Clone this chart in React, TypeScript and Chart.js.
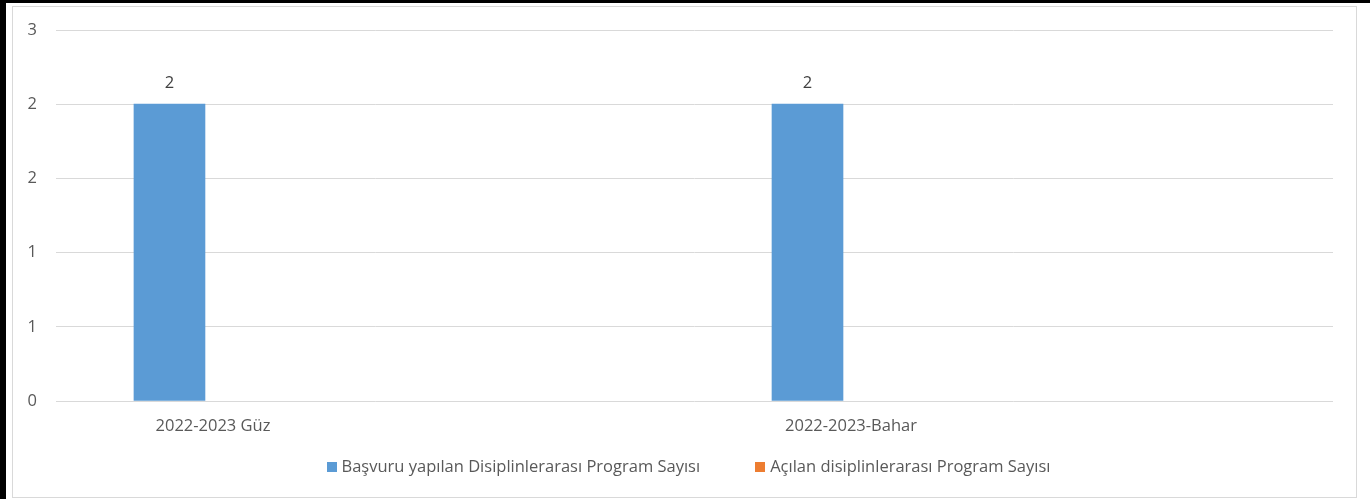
import React, { useEffect, useRef } from "react";
import { Chart, registerables } from "chart.js";

Chart.register(...registerables);

const categories = ["2022-2023 Güz", "2022-2023-Bahar"];
const categoryPositions = [0, 1];
const seriesNames = [
  "Başvuru yapılan Disiplinlerarası Program Sayısı",
  "Açılan disiplinlerarası Program Sayısı",
];
const seriesColors = ["#5B9BD5", "#ED7D31"];
const basvuruValues = [2, 2];
const acilanValues = [0, 0];
const yTicks = [0, 0.5, 1, 1.5, 2, 2.5];

const FONT = "'Open Sans', 'Noto Sans', sans-serif";
const TEXT = "#595959";
const FS = 16.5;

const labelPlugin = {
  id: "barValueLabels",
  afterDatasetsDraw(chart: any) {
    const ctx = chart.ctx;
    const meta = chart.getDatasetMeta(0);
    ctx.save();
    ctx.font = `${FS}px ${FONT}`;
    ctx.fillStyle = "#404040";
    ctx.textAlign = "center";
    ctx.textBaseline = "middle";
    meta.data.forEach((el: any, i: number) => {
      const v = chart.data.datasets[0].data[i];
      ctx.fillText(String(v.y), el.x, el.y - 21);
    });
    ctx.restore();
  },
};

// Excel-like legend: small square, short gap to text, wide gap between items
const legendPlugin = {
  id: "excelLegend",
  afterDraw(chart: any) {
    const ctx = chart.ctx;
    const box = 10;
    const boxGap = 5;
    const itemGap = 55;
    ctx.save();
    ctx.font = `${FS}px ${FONT}`;
    const items = chart.data.datasets.map((d: any, i: number) => ({
      text: d.label,
      color: seriesColors[i],
      w: ctx.measureText(d.label).width,
    }));
    const total =
      items.reduce((s: number, it: any) => s + box + boxGap + it.w, 0) +
      itemGap * (items.length - 1);
    const cx = (chart.chartArea.left + chart.chartArea.right) / 2 - 6;
    const cy = chart.height - 32;
    let x = cx - total / 2;
    ctx.textBaseline = "middle";
    ctx.textAlign = "left";
    items.forEach((it: any) => {
      ctx.fillStyle = it.color;
      ctx.fillRect(Math.round(x), Math.round(cy - box / 2), box, box);
      ctx.fillStyle = TEXT;
      ctx.fillText(it.text, x + box + boxGap, cy);
      x += box + boxGap + it.w + itemGap;
    });
    ctx.restore();
  },
};

export default function App() {
  const ref = useRef<HTMLCanvasElement | null>(null);
  useEffect(() => {
    document.body.style.margin = "0";
    if (!ref.current) return;
    const chart = new Chart(ref.current, {
      type: "bar",
      data: {
        datasets: [
          {
            label: seriesNames[0],
            data: categoryPositions.map((x, i) => ({ x, y: basvuruValues[i] })),
            backgroundColor: seriesColors[0],
            barThickness: 71,
          },
          {
            label: seriesNames[1],
            data: categoryPositions.map((x, i) => ({ x, y: acilanValues[i] })),
            backgroundColor: (c: any) =>
              c.type === "data" && c.raw && c.raw.y === 0 ? "rgba(0,0,0,0)" : seriesColors[1],
            barThickness: 71,
          },
        ],
      },
      options: {
        animation: false,
        responsive: false,
        maintainAspectRatio: false,
        layout: { padding: { left: 0, right: 37, top: 30, bottom: 38 } },
        scales: {
          x: {
            type: "linear",
            offset: false,
            min: -0.2335,
            max: 1.768,
            grid: { display: false, drawTicks: false },
            border: { display: false },
            afterBuildTicks: (scale: any) => {
              scale.ticks = categoryPositions.map((v) => ({ value: v }));
            },
            afterFit: (scale: any) => {
              scale.height = 60;
            },
            ticks: {
              autoSkip: false,
              maxRotation: 0,
              padding: 15,
              labelOffset: 8,
              color: TEXT,
              font: { family: FONT, size: FS },
              callback: (v: any) => {
                const i = categoryPositions.indexOf(Number(v));
                return i >= 0 ? categories[i] : "";
              },
            },
          },
          y: {
            min: 0,
            max: 2.5,
            afterBuildTicks: (scale: any) => {
              scale.ticks = yTicks.map((v) => ({ value: v }));
            },
            afterFit: (scale: any) => {
              scale.width = 56;
            },
            grid: { color: "#d9d9d9", lineWidth: 1, drawTicks: false },
            border: { display: false },
            ticks: {
              padding: 19,
              color: TEXT,
              font: { family: FONT, size: FS },
              callback: (v: any) => String(Math.round(Number(v))),
            },
          },
        },
        plugins: {
          legend: { display: false },
          tooltip: { enabled: false },
        },
      },
      plugins: [labelPlugin, legendPlugin],
    });
    return () => chart.destroy();
  }, []);

  return (
    <div
      style={{
        position: "relative",
        width: 1370,
        height: 499,
        background: "#fff",
        overflow: "hidden",
      }}
    >
      <div style={{ position: "absolute", left: 0, top: 0, width: 6, height: 499, background: "#000" }} />
      <div style={{ position: "absolute", left: 0, top: 0, width: 1370, height: 3, background: "#000" }} />
      <div
        style={{
          position: "absolute",
          left: 12,
          top: 6,
          width: 1343,
          height: 490,
          border: "1.5px solid #d9d9d9",
        }}
      />
      <canvas
        ref={ref}
        width={1370}
        height={499}
        style={{ position: "absolute", left: 0, top: 0, width: 1370, height: 499 }}
      />
    </div>
  );
}
